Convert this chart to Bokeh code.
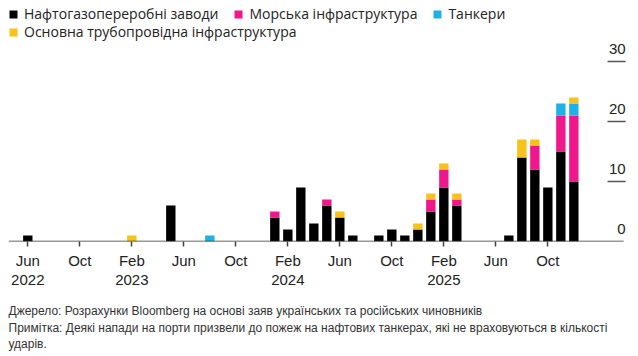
from bokeh.plotting import figure
from bokeh.models import ColumnDataSource, Legend, LegendItem, Range1d, FixedTicker, Title
from bokeh.core.properties import value
from bokeh.embed import file_html
from bokeh.resources import INLINE

# ---- data ----
months = ["2022-06", "2023-02", "2023-05", "2023-08", "2024-01", "2024-02", "2024-03",
          "2024-04", "2024-05", "2024-06", "2024-07", "2024-09", "2024-10", "2024-11",
          "2024-12", "2025-01", "2025-02", "2025-03", "2025-07", "2025-08", "2025-09",
          "2025-10", "2025-11", "2025-12"]
refineries = [1, 0, 6, 0, 4, 2, 9, 3, 6, 4, 1, 1, 2, 1, 2, 5, 9, 6, 1, 14, 12, 9, 15, 10]
maritime   = [0, 0, 0, 0, 1, 0, 0, 0, 1, 0, 0, 0, 0, 0, 0, 2, 3, 1, 0, 0, 4, 0, 6, 11]
tankers    = [0, 0, 0, 1, 0, 0, 0, 0, 0, 0, 0, 0, 0, 0, 0, 0, 0, 0, 0, 0, 0, 0, 2, 2]
pipelines  = [0, 1, 0, 0, 0, 0, 0, 0, 0, 1, 0, 0, 0, 0, 1, 1, 1, 1, 0, 3, 1, 0, 0, 1]

series_names = ["Нафтогазопереробні заводи", "Морська інфраструктура", "Танкери",
                "Основна трубопровідна інфраструктура"]
series_colors = ["#000000", "#F2168C", "#1FB0E8", "#F8C21A"]

x_tick_months = ["2022-06", "2022-10", "2023-02", "2023-06", "2023-10", "2024-02",
                 "2024-06", "2024-10", "2025-02", "2025-06", "2025-10"]
x_tick_labels = ["Jun\n2022", "Oct", "Feb\n2023", "Jun", "Oct", "Feb\n2024",
                 "Jun", "Oct", "Feb\n2025", "Jun", "Oct"]
y_ticks = [10, 20, 30]
y_tick_labels_vals = [0, 10, 20, 30]

source_note = ("Джерело: Розрахунки Bloomberg на основі заяв українських та російських чиновників\n"
               "Примітка: Деякі напади на порти призвели до пожеж на нафтових танкерах, які не враховуються в кількості\n"
               "ударів.")


def month_index(m):
    y, mo = m.split("-")
    return (int(y) - 2022) * 12 + (int(mo) - 6)


x = [month_index(m) for m in months]
src = ColumnDataSource(dict(x=x, ref=refineries, mar=maritime, tank=tankers, pipe=pipelines))

x_start, x_end = -1.485, 46.05
p = figure(frame_width=618, frame_height=241, output_backend="svg", toolbar_location=None,
           x_range=Range1d(x_start, x_end), y_range=Range1d(0, 40.17),
           y_axis_location=None, min_border_left=8, min_border_top=0,
           min_border_right=4, min_border_bottom=0)
p.outline_line_color = None
p.xgrid.visible = False
p.ygrid.visible = False

rs = p.vbar_stack(["ref", "mar", "tank", "pipe"], x="x", width=0.72, source=src,
                  color=series_colors, line_color=None)

# baseline
p.segment(x0=[x_start], y0=[0], x1=[45.83], y1=[0], line_color="#333333", line_width=1.5)
# y tick lines and labels on the right
p.segment(x0=[44.59] * len(y_ticks), y0=y_ticks, x1=[45.98] * len(y_ticks), y1=y_ticks,
          line_color="#555555", line_width=1.5)
p.text(x=[45.98] * len(y_tick_labels_vals), y=y_tick_labels_vals,
       text=[str(v) for v in y_tick_labels_vals],
       text_align="right", text_baseline="middle", y_offset=-13,
       text_font=value("Liberation Sans"), text_font_size="15px", text_color="#222222")

ax = p.xaxis[0]
ax.ticker = FixedTicker(ticks=[month_index(m) for m in x_tick_months])
ax.major_label_overrides = {month_index(m): lab for m, lab in zip(x_tick_months, x_tick_labels)}
ax.axis_line_color = None
ax.major_tick_in = 0
ax.major_tick_out = 5
ax.major_tick_line_color = "#444444"
ax.major_tick_line_width = 1.5
ax.minor_tick_line_color = None
ax.major_label_text_font = "Liberation Sans"
ax.major_label_text_font_size = "15px"
ax.major_label_text_color = "#222222"
ax.major_label_text_line_height = 1.15
ax.major_label_standoff = 5

items1 = [LegendItem(label=series_names[i], renderers=[rs[i]]) for i in range(3)]
items2 = [LegendItem(label=series_names[3], renderers=[rs[3]])]
for items, loc in ((items1, (0, 218)), (items2, (0, 200))):
    lg = Legend(items=items, location=loc, orientation="horizontal",
                glyph_width=10, glyph_height=10, label_standoff=6, spacing=15,
                padding=0, margin=0, label_text_font="Open Sans", label_text_font_size="14px",
                label_text_color="#222222", background_fill_alpha=0, border_line_color=None,
                label_height=18)
    p.add_layout(lg, "center")

t = Title(text=source_note, align="left", text_font="Liberation Sans", text_font_size="12px",
          text_font_style="normal", text_color="#333333", text_line_height=1.2,
          offset=0, standoff=20)
p.add_layout(t, "below")

open("out.html", "w").write(file_html(p, INLINE))
